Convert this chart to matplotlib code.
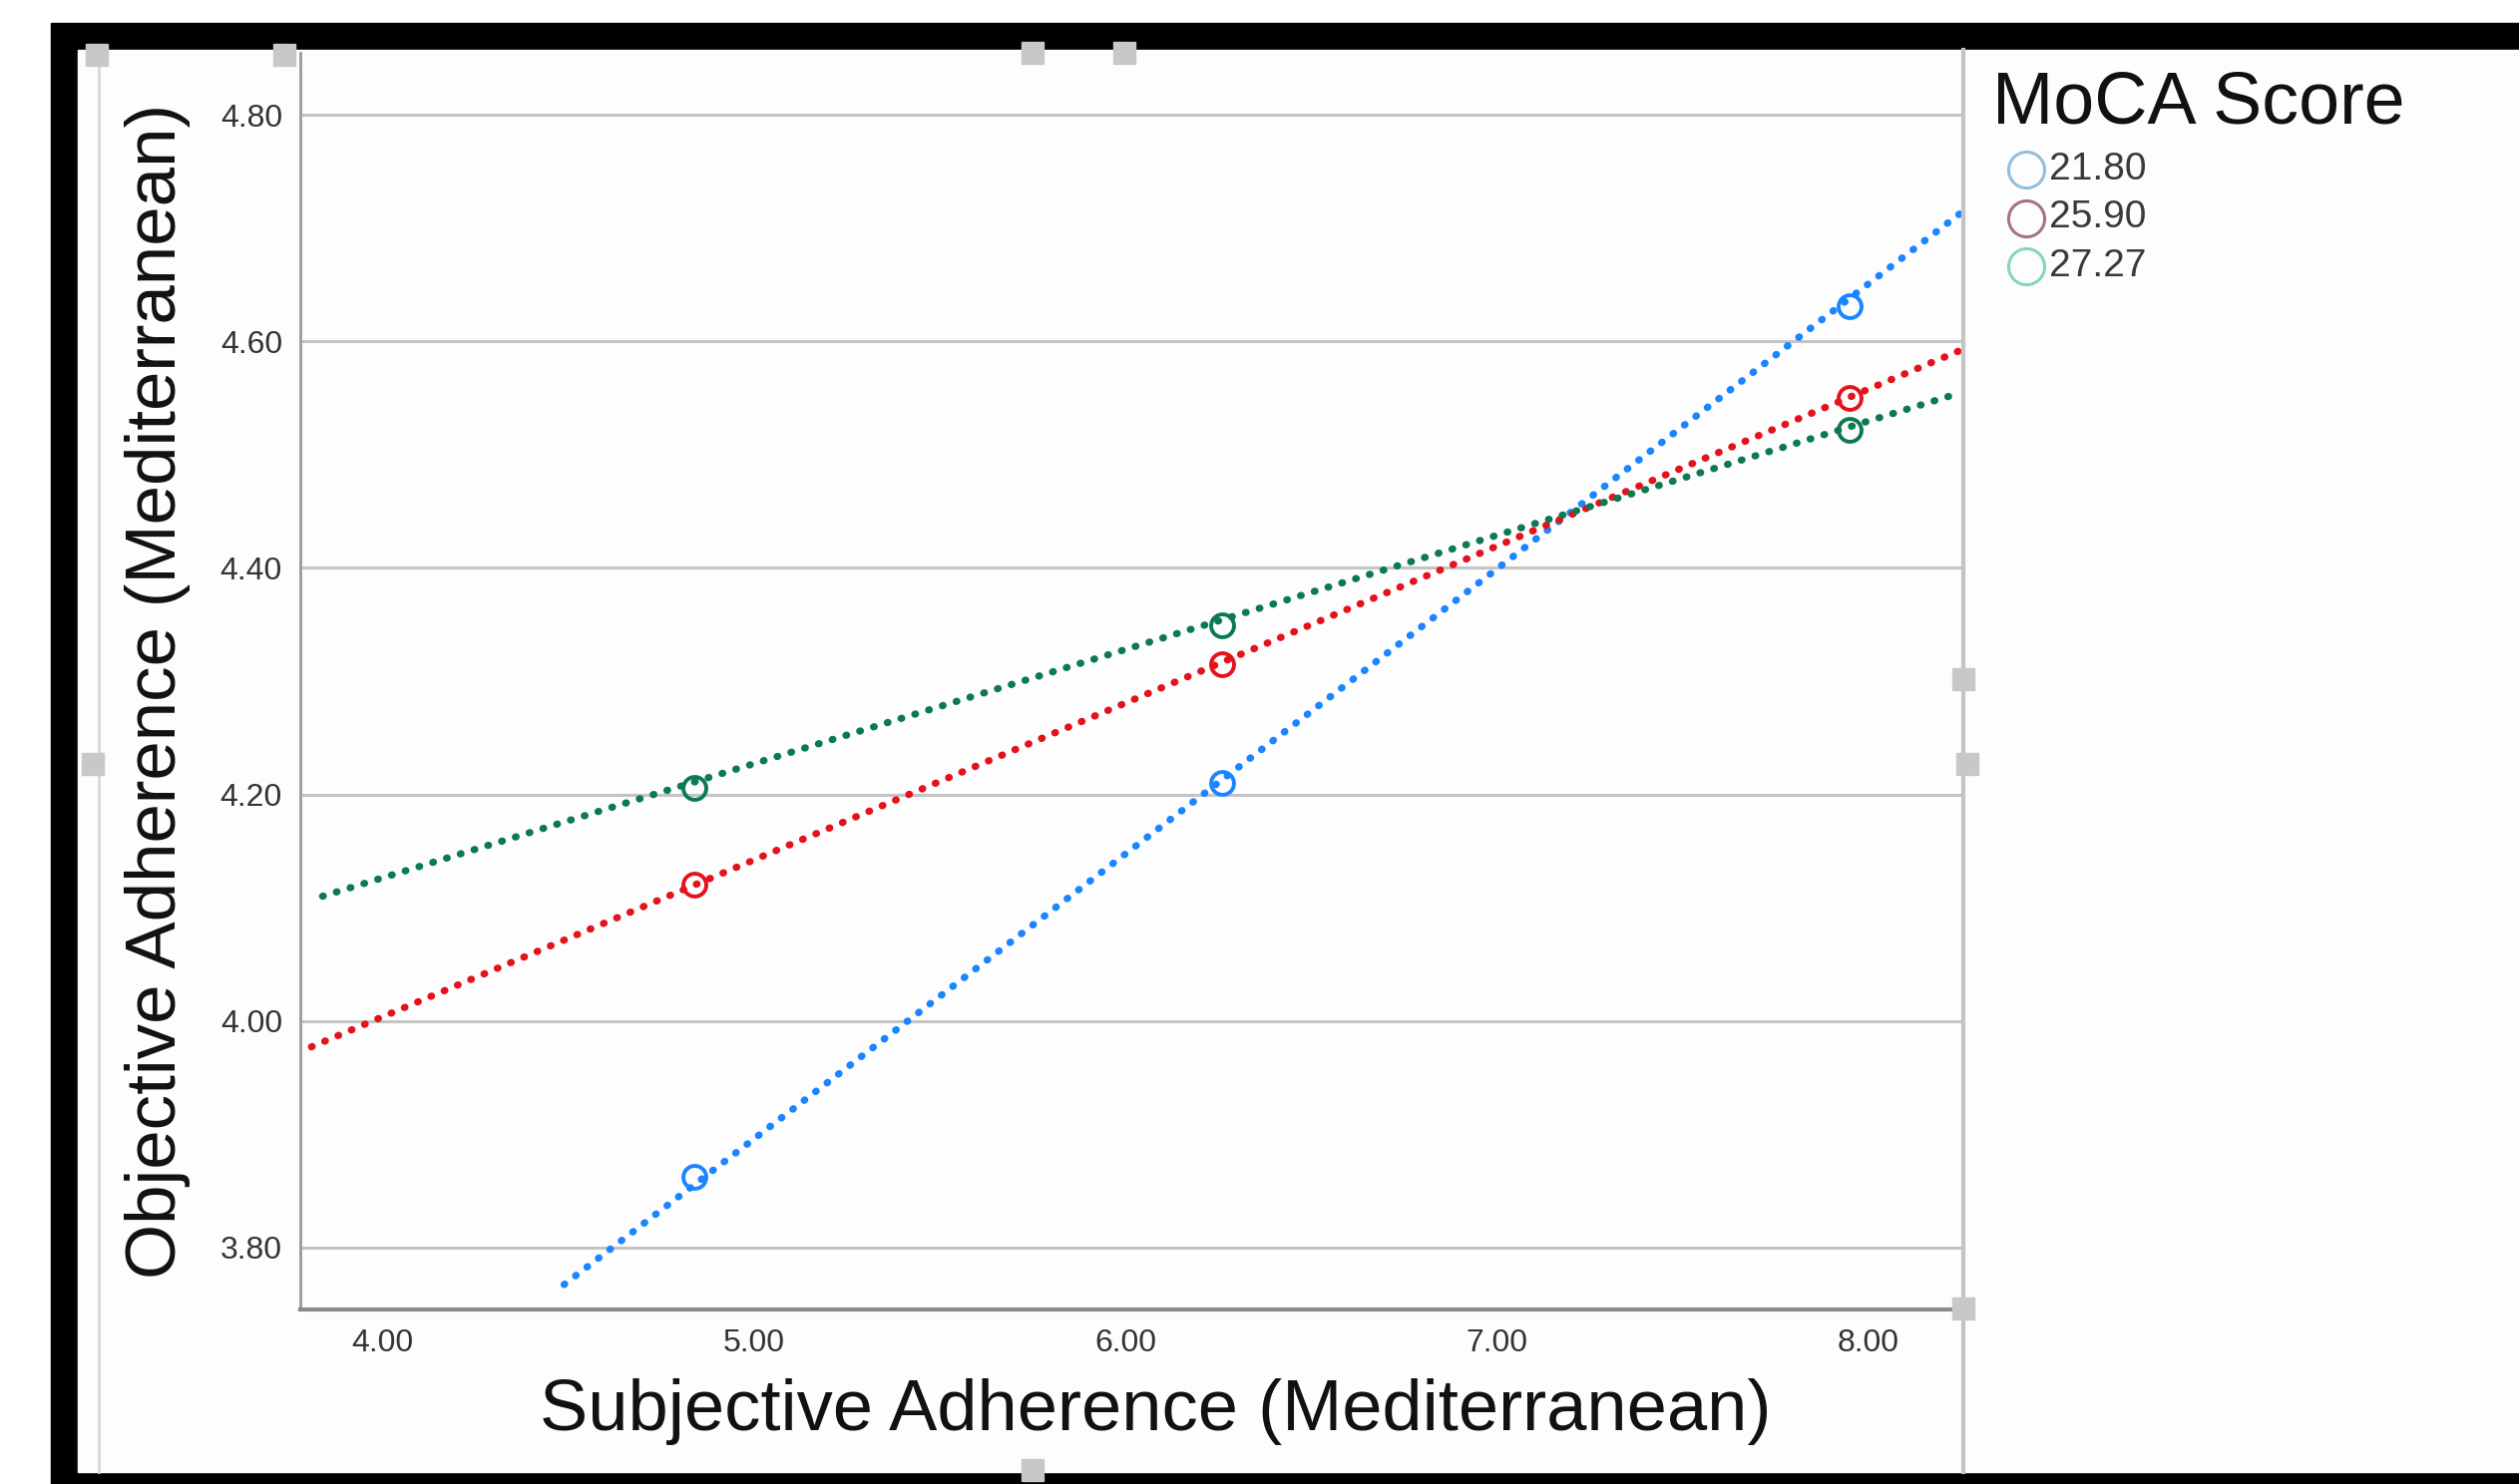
import matplotlib
matplotlib.use('Agg')
from matplotlib import pyplot
from matplotlib.lines import Line2D
from matplotlib.patches import Rectangle

pyplot.rcParams['font.family'] = ['Liberation Sans', 'DejaVu Sans']

# group values (MoCA score) and their colours
moca_scores = ['21.80', '25.90', '27.27']
line_colors = ['#1A85FF', '#E3121B', '#0C7A4F']
legend_colors = ['#93BEDC', '#A8708C', '#86D4C4']

# group means
subj_x = [4.84, 6.26, 7.95]
obj_blue = [3.862, 4.210, 4.631]
obj_red = [4.120, 4.315, 4.550]
obj_green = [4.206, 4.349, 4.522]
obj_y = [obj_blue, obj_red, obj_green]

# fit line end points
fit_x0 = [4.49, 3.81, 3.84]
fit_y0 = [3.767, 3.977, 4.110]
fit_x1 = [8.25, 8.26, 8.23]
fit_y1 = [4.714, 4.594, 4.553]

x_ticks = [4.0, 5.0, 6.0, 7.0, 8.0]
y_ticks = [3.8, 4.0, 4.2, 4.4, 4.6, 4.8]

W, H = 2525, 1488
fig = pyplot.figure(figsize=(W / 100, H / 100), dpi=100)


def px(x, y, w=0, h=0):
    # pixel box (top-left origin) -> figure fraction
    return (x / W, 1 - (y + h) / H, w / W, h / H)


# screenshot frame
bx, by, bw, bh = px(51, 23, W - 51, H - 23)
fig.add_artist(Rectangle((bx, by), bw, bh, transform=fig.transFigure, color='black', zorder=0))
bx, by, bw, bh = px(78, 50, W - 78, 1476 - 50)
fig.add_artist(Rectangle((bx, by), bw, bh, transform=fig.transFigure, color='#FEFDFE', zorder=0))

# editor guide lines
fig.add_artist(Line2D([1968 / W] * 2, [1 - 50 / H, 1 - 1476 / H], transform=fig.transFigure,
                      color='#C4C4C4', lw=3, zorder=1))
fig.add_artist(Line2D([99 / W] * 2, [1 - 55 / H, 1 - 1476 / H], transform=fig.transFigure,
                      color='#D8D8D8', lw=2, zorder=1))
for hx, hy in [(1968, 681), (1972, 766), (1968, 1312), (93, 766), (1035, 53), (1127, 53),
               (97, 55), (285, 55), (1035, 1474)]:
    bx, by, bw, bh = px(hx - 11, hy - 11, 22, 22)
    fig.add_artist(Rectangle((bx, by), bw, bh, transform=fig.transFigure, color='#C8C8C8', zorder=2))

ax = fig.add_axes([301 / W, 1 - 1313 / H, (1968 - 301) / W, (1313 - 53) / H])
ax.set_facecolor('none')

for i in range(len(moca_scores)):
    ax.plot([fit_x0[i], fit_x1[i]], [fit_y0[i], fit_y1[i]], color=line_colors[i], lw=5.2,
            linestyle=(0, (0.1, 1.9)), dash_capstyle='round', zorder=3)
    ax.plot(subj_x, obj_y[i], linestyle='none', marker='o', ms=16.5, mfc='none',
            mec=line_colors[i], mew=2.8, zorder=4)

ax.set_xlim(3.78, 8.255)
ax.set_ylim(3.745, 4.855)
ax.set_xticks(x_ticks)
ax.set_xticklabels(['{:.2f}'.format(v) for v in x_ticks])
ax.set_yticks(y_ticks)
ax.set_yticklabels(['{:.2f}'.format(v) for v in y_ticks])
ax.tick_params(length=0, labelsize=23, labelcolor='#333333')
ax.tick_params(axis='x', pad=14)
ax.tick_params(axis='y', pad=13)
ax.yaxis.grid(True, color='#C4C4C4', lw=2.2)
ax.set_axisbelow(True)
for s in ['top', 'right']:
    ax.spines[s].set_visible(False)
ax.spines['left'].set_color('#9A9A9A')
ax.spines['left'].set_linewidth(2)
ax.spines['bottom'].set_color('#8A8A8A')
ax.spines['bottom'].set_linewidth(3)

ax.set_xlabel('Subjective Adherence (Mediterranean)', fontsize=52, color='#111111')
ax.set_ylabel('Objective Adherence (Mediterranean)', fontsize=51, color='#111111')
ax.xaxis.set_label_coords(0.514, -0.055)
ax.yaxis.set_label_coords(-0.066, 0.492)

# legend
fig.text(1997 / W, 1 - 70 / H, 'MoCA Score', fontsize=53, color='#111111', ha='left', va='top')
for i, lab in enumerate(moca_scores):
    yy = 1 - (170 + 48.5 * i) / H
    fig.add_artist(Line2D([2031 / W], [yy], transform=fig.transFigure, marker='o', ms=26,
                          mfc='none', mec=legend_colors[i], mew=2.2))
    fig.text(2054 / W, yy, lab, fontsize=28, color='#3A3A3A', ha='left', va='center')

pyplot.savefig('out.png', dpi=100)
